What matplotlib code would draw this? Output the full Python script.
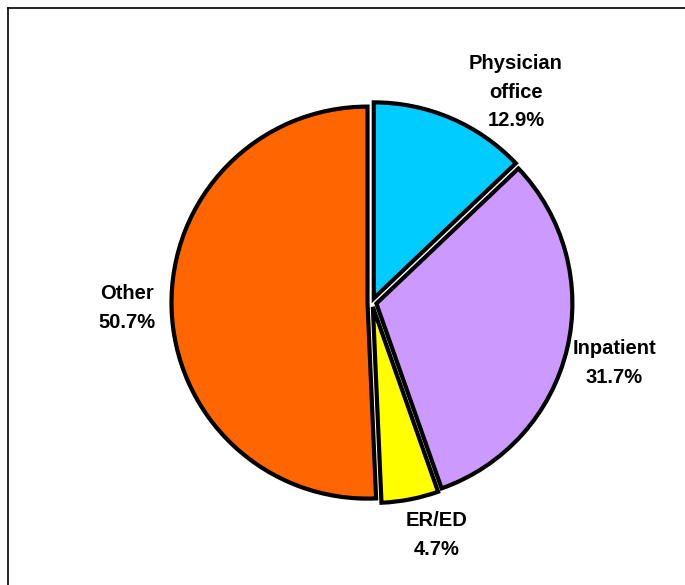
import matplotlib
matplotlib.use("Agg")
import matplotlib.pyplot as plt
from matplotlib.lines import Line2D

categories = ["Physician\noffice", "Inpatient", "ER/ED", "Other"]
values = [12.9, 31.7, 4.7, 50.7]
colors = ["#00CCFF", "#CC99FF", "#FFFF00", "#FF6600"]
label_pos = [(516, 493), (614, 222), (437, 50), (127, 277)]

plt.rcParams['font.family'] = ['Liberation Sans', 'DejaVu Sans']

W, H = 685, 585
fig = plt.figure(figsize=(W / 100, H / 100), dpi=100)
ax = fig.add_axes([0, 0, 1, 1])

cx, cy, r = 372, 282.5, 196
ax.pie(values, colors=colors, startangle=90, counterclock=False,
       center=(cx, cy), radius=r, explode=[4.5] * len(values),
       wedgeprops=dict(edgecolor='black', linewidth=3.0, joinstyle='miter'),
       frame=True)
ax.set_xlim(0, W)
ax.set_ylim(0, H)
ax.set_aspect('equal')
ax.axis('off')

for cat, v, (x, y) in zip(categories, values, label_pos):
    ax.text(x, y, f"{cat}\n{v:.1f}%", ha='center', va='center',
            fontsize=14.5, fontweight='bold', linespacing=1.66, color='black')

# outer frame (top and left edges visible)
fig.add_artist(Line2D([7.5 / W, 1.01], [1 - 7.5 / H, 1 - 7.5 / H],
                      transform=fig.transFigure, color='black', lw=1.2))
fig.add_artist(Line2D([7.5 / W, 7.5 / W], [-0.01, 1 - 7.5 / H],
                      transform=fig.transFigure, color='black', lw=1.2))

fig.savefig("out.png", dpi=100, facecolor='white')
